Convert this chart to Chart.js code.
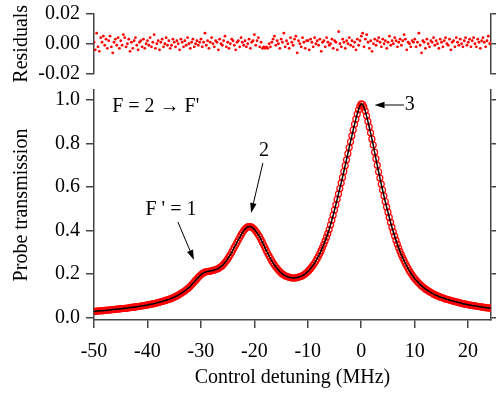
<!DOCTYPE html>
<html><head><meta charset="utf-8">
<script src="https://cdn.jsdelivr.net/npm/chart.js@4.4.0/dist/chart.umd.min.js"></script>
<style>
html,body{margin:0;padding:0;background:#fff;}
#wrap{position:relative;width:496px;height:394px;overflow:hidden;}
canvas{position:absolute;left:0;top:0;}
</style></head><body>
<div id="wrap"><canvas id="main" width="496" height="394"></canvas><canvas id="res" width="496" height="86"></canvas></div>
<script>
// ---- data ----
const detuningStart = -50;     // MHz, first sample
const detuningStep = 0.25;     // MHz between samples
const xTicks = [-50, -40, -30, -20, -10, 0, 10, 20];
const yTicks = [0, 0.2, 0.4, 0.6, 0.8, 1.0];
const resTicks = [-0.02, 0, 0.02];

const transmission = [
.028,.028,.029,.029, .030,.030,.031,.031, .032,.032,.033,.034, .034,.035,.036,.036,
.037,.038,.038,.039, .040,.040,.041,.042, .042,.043,.044,.045, .046,.047,.047,.048,
.049,.050,.051,.052, .053,.054,.055,.056, .057,.058,.060,.061, .062,.064,.065,.067,
.068,.070,.072,.073, .075,.077,.079,.081, .083,.085,.088,.090, .093,.096,.099,.102,
.106,.110,.114,.118, .122,.127,.132,.137, .143,.150,.157,.163, .170,.177,.184,.190,
.196,.201,.205,.208, .210,.211,.212,.213, .214,.216,.218,.220, .222,.225,.229,.233,
.238,.245,.252,.260, .268,.278,.288,.299, .310,.322,.333,.345, .356,.367,.378,.389,
.398,.406,.412,.416, .418,.418,.415,.411, .405,.397,.389,.380, .370,.358,.346,.333,
.320,.307,.295,.283, .272,.261,.251,.242, .233,.226,.218,.211, .205,.200,.196,.192,
.189,.187,.185,.183, .182,.181,.181,.182, .183,.185,.187,.189, .192,.196,.200,.205,
.211,.217,.224,.232, .240,.249,.259,.270, .281,.294,.307,.321, .336,.352,.369,.386,
.404,.425,.447,.470, .494,.518,.543,.568, .593,.618,.644,.671, .698,.725,.753,.781,
.808,.835,.862,.888, .912,.935,.955,.972, .982,.980,.968,.950, .927,.902,.876,.849,
.821,.793,.760,.730, .700,.670,.641,.613, .586,.559,.533,.508, .484,.460,.437,.415,
.394,.374,.355,.337, .320,.304,.289,.275, .262,.249,.237,.226, .215,.205,.196,.187,
.179,.172,.165,.158, .152,.146,.141,.136, .131,.127,.123,.119, .115,.112,.108,.105,
.102,.100,.097,.094, .092,.090,.088,.085, .083,.082,.080,.078, .076,.075,.073,.072,
.070,.069,.067,.065, .063,.062,.061,.060, .058,.057,.056,.055, .054,.053,.052,.051,
.050,.049,.048,.047, .046,.045,.044,.044, .043,.042,.041,.040
];

const residuals = [
0.001,-0.004,0.007,-0.002,-0.005,0.004,0.001,0.005,-0.001,0.003,-0.003,0.002,0.005,-0.002,-0.006,0.001,0.003,-0.001,0.004,-0.003,
0.002,-0.001,0.006,0.004,-0.002,0.000,0.003,-0.005,0.001,-0.003,0.002,0.004,-0.001,-0.004,0.001,0.002,-0.002,0.003,-0.003,0.000,
0.002,-0.001,0.004,-0.002,0.001,0.006,-0.003,0.000,0.002,-0.004,0.001,0.003,-0.002,0.000,0.004,-0.001,0.002,-0.003,-0.001,0.003,
0.001,-0.002,0.002,0.000,-0.004,0.003,0.001,-0.002,0.002,-0.001,0.004,0.000,-0.003,0.001,0.003,-0.002,0.000,0.002,-0.001,0.001,
0.003,-0.002,0.001,0.007,-0.001,0.002,-0.003,0.001,0.004,0.000,-0.002,0.002,0.001,-0.004,0.003,0.000,-0.001,0.002,0.005,-0.002,
0.001,-0.003,0.000,0.003,0.002,-0.001,-0.004,0.001,0.002,-0.002,0.004,0.001,-0.001,0.002,-0.002,0.000,0.003,-0.003,0.001,0.002,
0.006,-0.001,0.002,0.004,-0.002,0.001,-0.003,-0.002,-0.003,-0.002,-0.003,0.000,-0.002,0.001,0.003,0.005,-0.001,0.002,0.000,-0.003,
0.003,0.001,0.007,-0.002,0.002,0.000,-0.003,0.004,0.001,-0.001,0.003,0.005,-0.006,0.002,0.000,-0.002,0.004,0.001,-0.003,0.002,
0.002,-0.004,0.003,0.001,-0.002,0.004,0.000,0.002,-0.001,0.003,-0.005,0.001,0.002,-0.002,0.004,0.001,-0.001,0.000,0.003,-0.003,
0.002,0.001,-0.004,0.008,0.000,-0.002,0.003,0.001,-0.003,0.002,0.000,0.004,-0.001,0.002,-0.002,0.001,-0.004,0.003,-0.001,0.002,
0.005,0.007,-0.002,0.003,0.006,0.001,-0.003,0.002,-0.005,0.000,0.003,-0.001,0.002,0.004,0.001,-0.002,0.003,0.000,0.002,-0.003,
0.001,0.005,-0.001,0.002,0.000,0.004,0.002,-0.002,0.001,0.003,-0.001,0.002,0.006,0.003,-0.004,0.001,0.000,-0.002,0.002,0.001,
0.003,-0.002,0.001,0.007,-0.001,-0.006,0.002,0.001,-0.003,0.003,0.000,-0.002,0.002,0.001,0.004,-0.001,0.002,0.000,-0.003,0.003,
0.001,-0.002,0.002,0.004,0.000,-0.001,0.003,-0.004,0.001,0.002,-0.002,0.004,0.001,-0.001,0.003,0.000,-0.002,0.002,0.004,-0.001,
0.001,0.003,-0.002,0.002,0.004,0.000,-0.002,0.003,0.001,-0.003,0.002,0.004,0.001,-0.002,0.002,0.005,0.000,0.001,0.002,-0.001
];

// annotations (data coordinates)
const annoTexts = ["F = 2 \u2192 F'", "2", "F ' = 1", "3"];
const annoX = [-46.6, -18.2, -35.6, 9.1];
const annoY = [0.968, 0.766, 0.494, 0.977];
const annoAlign = ['left', 'center', 'center', 'center'];
const arrowFromX = [-18.4, -34.3, 8.0];
const arrowFromY = [0.710, 0.439, 0.977];
const arrowToX = [-20.6, -31.3, 2.5];
const arrowToY = [0.480, 0.264, 0.977];

// ---- build ----
const mainPts = transmission.map((v, i) => ({x: detuningStart + i * detuningStep, y: v}));
const resPts = residuals.map((v, i) => ({x: detuningStart + i * detuningStep, y: v}));

const FONT = {family: "'Liberation Serif', 'Times New Roman', serif", size: 20};
const AX = '#444';
const X_MIN = -50, X_MAX = 24.25;
const Y_MIN = -0.012, Y_MAX = 1.046;

function setTicks(values) { return s => { s.ticks = values.map(v => ({value: v})); }; }
function fitY(w) { return s => { s.width = w; s.paddingTop = 0; s.paddingBottom = 0; }; }
const gridOpt = {drawOnChartArea: false, drawTicks: true, tickLength: 8, color: AX, lineWidth: 1.5};
const borderOpt = {display: true, color: AX, width: 1.5};

const annoPlugin = {
  id: 'anno',
  afterDraw(chart) {
    const ctx = chart.ctx, xs = chart.scales.x, ys = chart.scales.y;
    ctx.save();
    ctx.fillStyle = '#000'; ctx.strokeStyle = '#000';
    ctx.font = "20px 'Liberation Serif', 'Times New Roman', serif";
    ctx.textBaseline = 'middle';
    annoTexts.forEach((t, i) => {
      ctx.textAlign = annoAlign[i];
      ctx.fillText(t, xs.getPixelForValue(annoX[i]), ys.getPixelForValue(annoY[i]));
    });
    ctx.lineWidth = 1;
    arrowFromX.forEach((_, i) => {
      const x1 = xs.getPixelForValue(arrowFromX[i]), y1 = ys.getPixelForValue(arrowFromY[i]);
      const x2 = xs.getPixelForValue(arrowToX[i]), y2 = ys.getPixelForValue(arrowToY[i]);
      const a = Math.atan2(y2 - y1, x2 - x1), L = 10, W = 3.2;
      const bx = x2 - L * Math.cos(a), by = y2 - L * Math.sin(a);
      ctx.beginPath(); ctx.moveTo(x1, y1); ctx.lineTo(bx, by); ctx.stroke();
      ctx.beginPath();
      ctx.moveTo(x2, y2);
      ctx.lineTo(bx + W * Math.sin(a), by - W * Math.cos(a));
      ctx.lineTo(bx - W * Math.sin(a), by + W * Math.cos(a));
      ctx.closePath(); ctx.fill();
    });
    ctx.restore();
  }
};

new Chart(document.getElementById('main'), {
  type: 'scatter',
  data: {datasets: [
    {label: 'fit', data: mainPts, showLine: true, borderColor: '#000', borderWidth: 1.5, pointRadius: 0, order: 0},
    {label: 'data', data: mainPts, showLine: false, pointRadius: 3, borderColor: '#ff0000', borderWidth: 1.2, backgroundColor: 'rgba(0,0,0,0)', order: 1}
  ]},
  options: {
    responsive: false, animation: false, devicePixelRatio: 1,
    layout: {padding: {top: 90, left: 0, right: 0, bottom: 0}},
    plugins: {legend: {display: false}, tooltip: {enabled: false}},
    scales: {
      x: {type: 'linear', position: 'bottom', min: X_MIN, max: X_MAX,
        afterBuildTicks: setTicks(xTicks), afterFit: s => { s.height = 74; },
        grid: gridOpt, border: borderOpt,
        ticks: {padding: 12, font: FONT, color: '#000', maxRotation: 0, autoSkip: false, callback: v => String(v)},
        title: {display: true, text: 'Control detuning (MHz)', font: FONT, color: '#000', padding: {top: 0, bottom: 4}}},
      y: {type: 'linear', position: 'left', min: Y_MIN, max: Y_MAX,
        afterBuildTicks: setTicks(yTicks), afterFit: fitY(94),
        grid: gridOpt, border: borderOpt,
        ticks: {padding: 6, font: FONT, color: '#000', autoSkip: false, callback: v => v.toFixed(1)},
        title: {display: true, text: 'Probe transmission', font: FONT, color: '#000', padding: {top: 10, bottom: 0}}},
      y2: {type: 'linear', position: 'right', min: Y_MIN, max: Y_MAX,
        afterBuildTicks: setTicks(yTicks), afterFit: fitY(5),
        grid: gridOpt, border: borderOpt,
        ticks: {display: false}}
    }
  },
  plugins: [annoPlugin]
});

new Chart(document.getElementById('res'), {
  type: 'scatter',
  data: {datasets: [
    {label: 'residuals', data: resPts, pointRadius: 1.4, backgroundColor: '#ff0000', borderWidth: 0}
  ]},
  options: {
    responsive: false, animation: false, devicePixelRatio: 1,
    layout: {padding: {top: 13.5, left: 0, right: 0, bottom: 12}},
    plugins: {legend: {display: false}, tooltip: {enabled: false}},
    scales: {
      x: {type: 'linear', min: X_MIN, max: X_MAX, display: false},
      y: {type: 'linear', position: 'left', min: -0.02, max: 0.02,
        afterBuildTicks: setTicks(resTicks), afterFit: fitY(94),
        grid: gridOpt, border: borderOpt,
        ticks: {padding: 6, font: FONT, color: '#000', autoSkip: false, callback: v => v.toFixed(2)},
        title: {display: true, text: 'Residuals', font: FONT, color: '#000', padding: {top: 10, bottom: 0}}},
      y2: {type: 'linear', position: 'right', min: -0.02, max: 0.02,
        afterBuildTicks: setTicks(resTicks), afterFit: fitY(5),
        grid: gridOpt, border: borderOpt,
        ticks: {display: false}}
    }
  }
});
</script>
</body></html>
